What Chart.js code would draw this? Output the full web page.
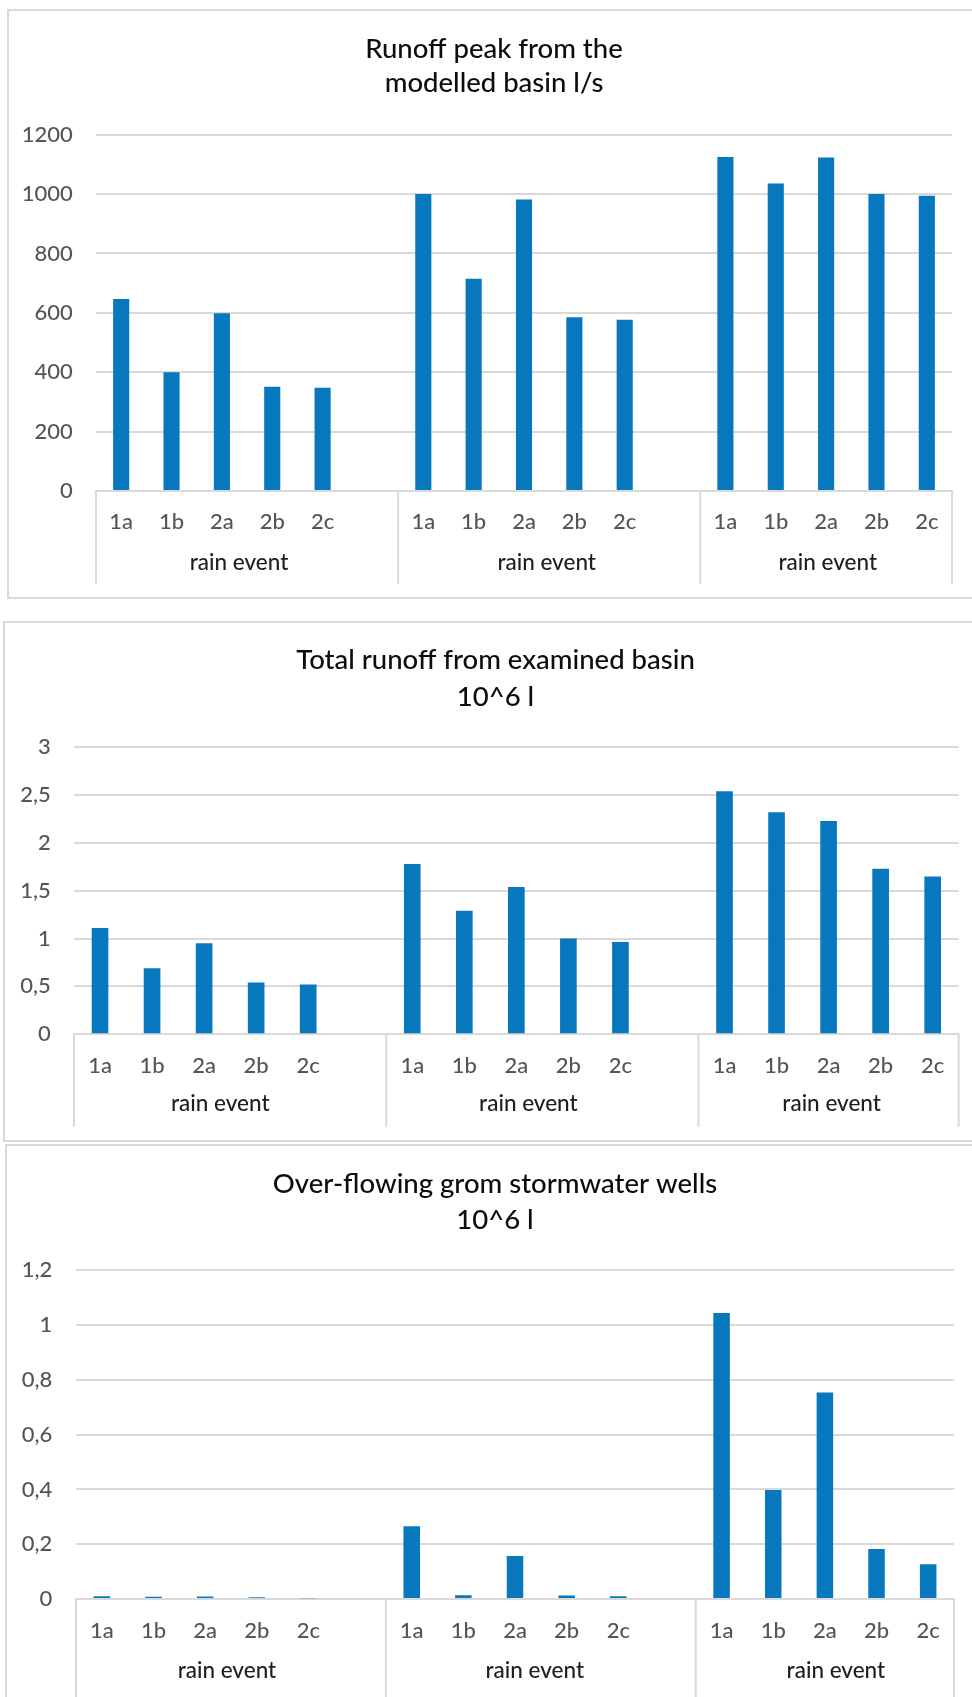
<!DOCTYPE html>
<html>
<head>
<meta charset="utf-8">
<script src="https://cdn.jsdelivr.net/npm/chart.js@4/dist/chart.umd.min.js"></script>
<style>
  html, body { margin: 0; padding: 0; background: #fff; }
  body { width: 972px; height: 1697px; position: relative; overflow: hidden; }
  .panel { position: absolute; box-sizing: border-box; border: 2px solid #d9d9d9; border-right: none; }
  canvas { position: absolute; left: 0; }
</style>
</head>
<body>
<div class="panel" style="left:7px; top:9px; width:965px; height:590px;"></div>
<div class="panel" style="left:3px; top:621px; width:969px; height:521px;"></div>
<div class="panel" style="left:5px; top:1144px; width:967px; height:600px; border-bottom:none;"></div>

<canvas id="peakChart" width="972" height="600" style="top:0px;"></canvas>
<canvas id="totalChart" width="972" height="545" style="top:600px;"></canvas>
<canvas id="overflowChart" width="972" height="552" style="top:1145px;"></canvas>

<script>
// Categories: three groups of rain events, the first two followed by an empty slot
const categories = ['1a', '1b', '2a', '2b', '2c', '',
                    '1a', '1b', '2a', '2b', '2c', '',
                    '1a', '1b', '2a', '2b', '2c'];
const groupLabel = 'rain event';
const groupStarts = [0, 6, 12];

// Runoff peak (l/s)
const peakFlow = [647, 400, 599, 351, 348, null,
                  1000, 715, 982, 585, 577, null,
                  1125, 1036, 1123, 1000, 994];
// Total runoff (10^6 l)
const totalRunoff = [1.11, 0.69, 0.95, 0.54, 0.52, null,
                     1.78, 1.29, 1.54, 1.00, 0.965, null,
                     2.54, 2.32, 2.23, 1.73, 1.65];
// Overflow from stormwater wells (10^6 l)
const overflowVolume = [0.010, 0.008, 0.009, 0.0065, 0.0026, null,
                        0.266, 0.014, 0.157, 0.013, 0.010, null,
                        1.044, 0.398, 0.754, 0.183, 0.127];

// Value-axis ticks
const peakTicks = [0, 200, 400, 600, 800, 1000, 1200];
const runoffTicks = [0, 0.5, 1, 1.5, 2, 2.5, 3];
const overflowTicks = [0, 0.2, 0.4, 0.6, 0.8, 1, 1.2];

// Titles
const peakTitle = ['Runoff peak from the', 'modelled basin l/s'];
const runoffTitle = ['Total runoff from examined basin', '10^6 l'];
const overflowTitle = ['Over-flowing grom stormwater wells', '10^6 l'];

const FONT = 'Lato, "Open Sans", sans-serif';
const BAR_BLUE = '#0777BE';
const GRID = '#d9d9d9';
const TICK_SIZE = 22;
const TICK_COLOR = '#555555';

// Decimal comma, as in the axis labels
const commaFormat = v => String(v).replace('.', ',');

// Two-line chart heading, centred on the panel
const panelTitlePlugin = {
  id: 'panelTitle',
  afterDraw(chart, args, opts) {
    const { ctx } = chart;
    ctx.save();
    ctx.font = `500 27.5px ${FONT}`;
    ctx.fillStyle = '#0d0d0d';
    ctx.textAlign = 'center';
    ctx.textBaseline = 'middle';
    opts.text.forEach((line, i) => ctx.fillText(line, opts.x, opts.y[i]));
    ctx.restore();
  }
};

// Group dividers under the category axis and the group captions
const groupAxisPlugin = {
  id: 'groupAxis',
  afterDraw(chart, args, opts) {
    const { ctx, chartArea, scales: { x } } = chart;
    const edges = groupStarts.map(i => i === 0
      ? chartArea.left
      : (x.getPixelForValue(i - 1) + x.getPixelForValue(i)) / 2);
    edges.push(chartArea.right);
    ctx.save();
    ctx.strokeStyle = GRID;
    ctx.lineWidth = 2;
    edges.forEach(px => {
      ctx.beginPath();
      ctx.moveTo(px, chartArea.bottom);
      ctx.lineTo(px, opts.lineEnd);
      ctx.stroke();
    });
    ctx.font = `500 22.5px ${FONT}`;
    ctx.fillStyle = '#1e1e1e';
    ctx.textAlign = 'center';
    ctx.textBaseline = 'middle';
    for (let g = 0; g < groupStarts.length; g++) {
      const cx = (edges[g] + edges[g + 1]) / 2 + opts.dx[g];
      ctx.fillText(groupLabel, cx, opts.labelY);
    }
    ctx.restore();
  }
};

function makeChart(id, values, tickValues, title, layout) {
  const ctx = document.getElementById(id);
  return new Chart(ctx, {
    type: 'bar',
    data: {
      labels: categories,
      datasets: [{
        data: values,
        backgroundColor: BAR_BLUE,
        borderWidth: 0,
        categoryPercentage: 1,
        barPercentage: 0.32
      }]
    },
    options: {
      responsive: false,
      animation: false,
      devicePixelRatio: 1,
      layout: { padding: { left: 0, right: layout.padR, top: layout.areaTop, bottom: 0 } },
      plugins: {
        legend: { display: false },
        tooltip: { enabled: false },
        title: { display: false },
        panelTitle: { text: title, x: layout.titleX, y: layout.titleY },
        groupAxis: { labelY: layout.groupY, lineEnd: layout.lineEnd, dx: layout.groupDx }
      },
      scales: {
        x: {
          grid: { display: false, drawTicks: false },
          border: { display: true, color: GRID, width: 2 },
          ticks: {
            autoSkip: false, maxRotation: 0, minRotation: 0,
            padding: layout.xPad,
            color: TICK_COLOR,
            font: { family: FONT, size: TICK_SIZE, weight: 500 }
          },
          afterFit(scale) { scale.height = layout.xHeight; }
        },
        y: {
          min: tickValues[0],
          max: tickValues[tickValues.length - 1],
          grid: { color: GRID, lineWidth: 2, drawTicks: false },
          border: { display: false },
          afterBuildTicks(scale) { scale.ticks = tickValues.map(v => ({ value: v })); },
          ticks: {
            padding: layout.yPad,
            color: TICK_COLOR,
            font: { family: FONT, size: TICK_SIZE, weight: 500 },
            callback: v => commaFormat(v)
          },
          afterFit(scale) { scale.width = layout.yWidth; }
        }
      }
    },
    plugins: [panelTitlePlugin, groupAxisPlugin]
  });
}

makeChart('peakChart', peakFlow, peakTicks, peakTitle, {
  padR: 20, yWidth: 96, xHeight: 109, areaTop: 134.7,
  titleX: 494, titleY: [49, 83.4],
  xPad: 18.2, yPad: 23.3, groupY: 562.6, lineEnd: 584, groupDx: [-8, -2.5, 1.7]
});

makeChart('totalChart', totalRunoff, runoffTicks, runoffTitle, {
  padR: 13.3, yWidth: 74, xHeight: 110.8, areaTop: 147.3,
  titleX: 495.5, titleY: [60.3, 97.5],
  xPad: 18.4, yPad: 23.3, groupY: 504, lineEnd: 526.7, groupDx: [-9.8, -14, 3]
});

makeChart('overflowChart', overflowVolume, overflowTicks, overflowTitle, {
  padR: 18, yWidth: 76, xHeight: 98, areaTop: 125.4,
  titleX: 495, titleY: [39.4, 74.9],
  xPad: 18.8, yPad: 23.7, groupY: 526, lineEnd: 552, groupDx: [-4, -6, 11]
});
</script>
</body>
</html>
